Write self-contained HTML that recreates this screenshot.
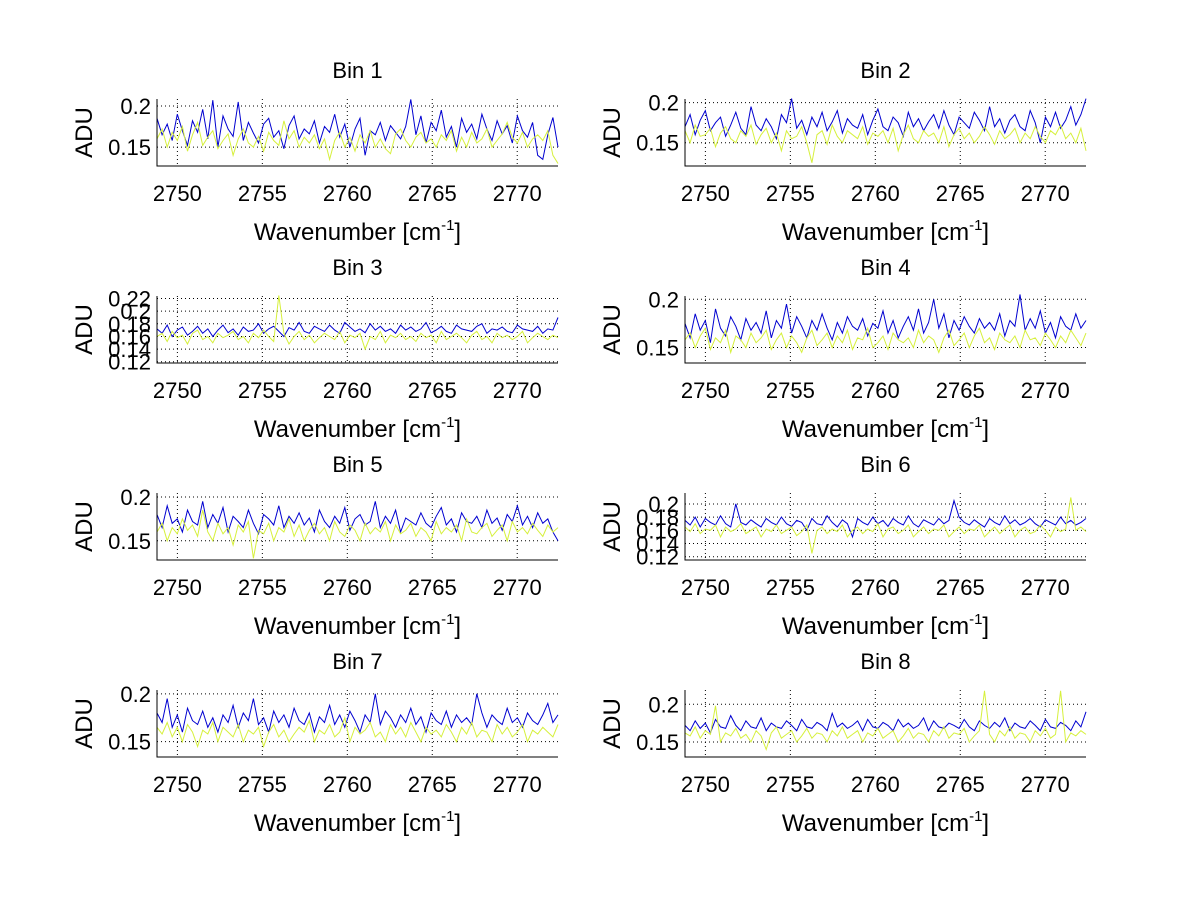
<!DOCTYPE html>
<html><head><meta charset="utf-8">
<style>
body{margin:0;background:#fff;}
svg{display:block;font-family:"Liberation Sans",sans-serif;}
</style></head>
<body>
<svg id="fig" width="1200" height="901" viewBox="0 0 1200 901" xmlns="http://www.w3.org/2000/svg">
<rect width="1200" height="901" fill="#fff"/>
</svg>
<script>
const xTicks=[2750,2755,2760,2765,2770];
const xMin=2748.8, xMax=2772.4;
const binTitles=["Bin 1","Bin 2","Bin 3","Bin 4","Bin 5","Bin 6","Bin 7","Bin 8"];
const yLims=[[0.127,0.2085],[0.121,0.2045],[0.118,0.224],[0.134,0.2034],[0.128,0.2046],[0.115,0.2166],[0.134,0.204],[0.13,0.219]];
const yTicks=[[0.15,0.2],[0.15,0.2],[0.12,0.14,0.16,0.18,0.2,0.22],[0.15,0.2],[0.15,0.2],[0.12,0.14,0.16,0.18,0.2],[0.15,0.2],[0.15,0.2]];
const blue1=[.185,.165,.178,.158,.190,.170,.152,.182,.168,.196,.160,.207,.150,.188,.172,.163,.205,.158,.180,.167,.155,.178,.185,.162,.170,.148,.176,.188,.160,.172,.166,.182,.155,.175,.168,.190,.162,.178,.150,.172,.185,.140,.170,.165,.180,.158,.176,.168,.160,.175,.208,.165,.188,.155,.180,.170,.195,.162,.175,.150,.185,.168,.178,.160,.190,.172,.158,.182,.166,.176,.155,.188,.170,.162,.180,.140,.135,.165,.186,.150];
const yel1=[.160,.172,.150,.168,.158,.175,.145,.165,.180,.152,.162,.170,.148,.158,.166,.140,.160,.172,.155,.150,.163,.145,.168,.158,.152,.182,.160,.170,.150,.162,.155,.165,.148,.160,.135,.158,.168,.150,.162,.145,.165,.155,.170,.150,.160,.148,.142,.166,.172,.158,.150,.162,.168,.155,.160,.150,.165,.158,.170,.145,.162,.150,.168,.155,.160,.172,.150,.158,.166,.180,.162,.155,.168,.150,.160,.165,.158,.170,.140,.130];
const blue2=[.170,.185,.160,.178,.190,.165,.175,.182,.158,.172,.188,.168,.160,.195,.172,.165,.180,.170,.155,.185,.175,.205,.168,.178,.160,.182,.170,.188,.165,.176,.190,.162,.180,.172,.168,.185,.160,.178,.192,.170,.165,.182,.175,.158,.188,.170,.180,.165,.176,.185,.168,.190,.172,.160,.182,.175,.168,.188,.178,.165,.195,.170,.180,.162,.178,.185,.170,.165,.190,.175,.150,.182,.170,.188,.168,.178,.195,.172,.185,.205];
const yel2=[.165,.150,.172,.158,.160,.168,.145,.162,.170,.155,.150,.165,.158,.172,.148,.160,.168,.150,.162,.140,.165,.155,.158,.170,.150,.125,.160,.165,.148,.172,.158,.150,.165,.160,.155,.170,.148,.162,.158,.165,.150,.168,.140,.160,.172,.155,.150,.165,.158,.162,.150,.170,.145,.160,.168,.155,.162,.150,.158,.170,.160,.148,.165,.155,.160,.168,.150,.162,.155,.170,.158,.150,.165,.160,.172,.155,.162,.150,.168,.140];
const blue3=[.172,.165,.178,.160,.170,.175,.162,.168,.176,.165,.172,.160,.170,.178,.166,.172,.162,.175,.168,.170,.180,.165,.172,.176,.168,.160,.174,.170,.182,.168,.165,.176,.172,.168,.178,.170,.165,.182,.175,.168,.172,.166,.180,.170,.176,.168,.172,.165,.178,.170,.175,.168,.172,.182,.166,.170,.176,.168,.165,.178,.172,.170,.168,.176,.180,.165,.172,.170,.175,.168,.166,.178,.172,.170,.168,.176,.165,.172,.170,.190];
const yel3=[.160,.165,.152,.168,.158,.162,.148,.165,.170,.155,.160,.150,.165,.158,.162,.168,.155,.160,.150,.165,.158,.170,.160,.152,.225,.165,.148,.160,.168,.155,.162,.150,.158,.165,.160,.155,.168,.150,.162,.158,.165,.140,.160,.155,.168,.150,.162,.158,.165,.155,.160,.152,.165,.158,.162,.150,.168,.155,.160,.165,.158,.150,.162,.168,.155,.160,.150,.165,.158,.162,.155,.160,.168,.150,.158,.165,.160,.155,.162,.158];
const blue4=[.175,.160,.185,.168,.178,.155,.190,.170,.162,.182,.172,.158,.180,.168,.176,.165,.188,.160,.178,.170,.195,.165,.182,.172,.160,.178,.168,.185,.170,.158,.176,.165,.182,.172,.168,.180,.162,.175,.170,.188,.165,.178,.160,.172,.182,.168,.190,.165,.176,.200,.170,.185,.160,.178,.168,.182,.172,.165,.180,.170,.176,.168,.185,.162,.178,.172,.205,.168,.180,.170,.188,.165,.176,.160,.182,.172,.168,.185,.170,.178];
const yel4=[.158,.165,.150,.162,.170,.148,.160,.155,.168,.145,.162,.158,.150,.165,.155,.160,.168,.148,.158,.165,.150,.162,.155,.145,.160,.168,.152,.158,.165,.150,.162,.155,.168,.148,.160,.158,.170,.150,.155,.162,.148,.165,.158,.155,.160,.150,.168,.155,.162,.158,.145,.160,.168,.152,.158,.165,.150,.162,.170,.155,.160,.148,.165,.158,.155,.162,.150,.168,.158,.160,.152,.165,.158,.150,.162,.155,.168,.160,.152,.165];
const blue5=[.180,.165,.190,.170,.175,.160,.185,.172,.168,.195,.165,.180,.170,.188,.160,.178,.172,.165,.185,.170,.158,.180,.175,.168,.190,.165,.178,.170,.182,.168,.176,.160,.185,.172,.165,.178,.170,.188,.162,.175,.180,.168,.172,.195,.165,.178,.170,.185,.160,.176,.172,.168,.182,.170,.165,.178,.188,.168,.175,.160,.182,.172,.170,.178,.165,.185,.170,.176,.162,.180,.172,.190,.168,.178,.165,.182,.170,.175,.160,.150];
const yel5=[.160,.170,.150,.165,.158,.175,.162,.168,.155,.185,.160,.150,.170,.158,.165,.145,.168,.160,.172,.130,.162,.158,.170,.150,.165,.160,.175,.155,.168,.150,.162,.170,.158,.165,.150,.172,.160,.155,.168,.162,.150,.170,.158,.165,.160,.172,.150,.168,.158,.162,.170,.155,.165,.160,.150,.172,.158,.165,.160,.168,.150,.175,.160,.158,.165,.170,.155,.162,.168,.150,.172,.160,.165,.158,.170,.162,.155,.168,.160,.165];
const blue6=[.175,.168,.180,.165,.178,.172,.168,.182,.170,.165,.200,.172,.168,.176,.170,.165,.178,.172,.168,.180,.170,.166,.175,.172,.160,.178,.170,.168,.182,.172,.165,.176,.170,.150,.178,.172,.168,.180,.170,.175,.166,.178,.172,.168,.182,.170,.165,.176,.172,.168,.178,.170,.175,.205,.180,.172,.168,.176,.170,.165,.178,.172,.168,.182,.170,.176,.168,.172,.178,.170,.165,.176,.172,.168,.180,.170,.175,.168,.172,.178];
const yel6=[.165,.158,.170,.155,.162,.160,.168,.150,.165,.158,.162,.170,.155,.160,.165,.150,.162,.158,.168,.155,.160,.165,.152,.158,.168,.125,.160,.165,.155,.162,.158,.168,.150,.160,.165,.155,.162,.158,.170,.150,.162,.165,.155,.160,.168,.150,.158,.165,.155,.162,.160,.168,.150,.158,.165,.155,.162,.160,.168,.150,.158,.165,.155,.162,.168,.150,.160,.165,.155,.158,.168,.160,.150,.165,.158,.162,.210,.160,.165,.158];
const blue7=[.180,.170,.195,.165,.178,.160,.185,.172,.168,.182,.165,.175,.160,.178,.170,.188,.165,.180,.172,.195,.168,.175,.160,.182,.170,.178,.165,.185,.172,.168,.180,.160,.176,.170,.188,.168,.178,.165,.182,.172,.160,.178,.170,.200,.168,.182,.175,.165,.178,.170,.185,.168,.176,.160,.180,.172,.168,.182,.165,.178,.170,.175,.168,.200,.180,.165,.178,.172,.168,.185,.170,.175,.165,.180,.172,.168,.178,.190,.170,.178];
const yel7=[.165,.158,.170,.155,.165,.150,.168,.160,.145,.162,.158,.170,.150,.165,.160,.155,.168,.150,.162,.158,.165,.145,.160,.168,.155,.162,.150,.158,.165,.160,.172,.150,.162,.158,.168,.155,.160,.175,.150,.165,.158,.162,.170,.155,.160,.150,.168,.158,.165,.155,.170,.160,.150,.165,.158,.162,.155,.168,.160,.150,.165,.158,.170,.155,.162,.160,.150,.168,.158,.165,.155,.160,.168,.150,.162,.158,.165,.160,.155,.168];
const blue8=[.172,.165,.178,.168,.175,.162,.180,.170,.168,.185,.172,.165,.178,.170,.168,.182,.165,.175,.170,.168,.178,.172,.165,.180,.170,.168,.176,.172,.165,.188,.170,.175,.168,.172,.178,.165,.180,.170,.168,.176,.172,.165,.180,.170,.175,.168,.172,.182,.165,.178,.170,.168,.175,.172,.168,.180,.170,.165,.178,.172,.168,.176,.170,.182,.165,.175,.170,.168,.178,.172,.165,.180,.170,.168,.176,.172,.165,.178,.170,.190];
const yel8=[.162,.158,.170,.155,.165,.160,.198,.150,.162,.158,.168,.155,.160,.150,.165,.158,.140,.162,.170,.155,.160,.165,.150,.158,.168,.155,.162,.160,.150,.165,.158,.170,.155,.160,.165,.150,.162,.158,.168,.155,.160,.165,.150,.158,.168,.155,.162,.160,.150,.165,.158,.170,.155,.162,.160,.168,.150,.158,.165,.218,.160,.150,.165,.158,.170,.155,.162,.160,.150,.165,.158,.168,.155,.160,.218,.150,.162,.158,.165,.160];
const blueSeries=[blue1,blue2,blue3,blue4,blue5,blue6,blue7,blue8];
const yellowSeries=[yel1,yel2,yel3,yel4,yel5,yel6,yel7,yel8];

const NS="http://www.w3.org/2000/svg";
const fig=document.getElementById('fig');
function mk(tag,attrs,parent){const e=document.createElementNS(NS,tag);for(const k in attrs)e.setAttribute(k,attrs[k]);parent.appendChild(e);return e;}
const AX_L=[157,685], AX_T=[99,296,493,690], AX_W=401, AX_H=67;

for(let i=0;i<8;i++){
  const col=i%2,row=Math.floor(i/2);
  const x0=AX_L[col],y0=AX_T[row];
  const [ymin,ymax]=yLims[i];
  const sx=v=>x0+(v-xMin)/(xMax-xMin)*AX_W;
  const sy=v=>y0+AX_H-(v-ymin)/(ymax-ymin)*AX_H;
  const g=mk('g',{},fig);
  
  
  xTicks.forEach(t=>{const l=mk('line',{x1:sx(t),x2:sx(t),y1:y0,y2:y0+AX_H,stroke:'#000','stroke-width':1,'stroke-dasharray':'1,3'},g);
    
    });
  yTicks[i].forEach(t=>{const l=mk('line',{x1:x0,x2:x0+AX_W,y1:sy(t),y2:sy(t),stroke:'#000','stroke-width':1,'stroke-dasharray':'1,3'},g);
    
    });
  [[blueSeries[i],'#0000d0','blue-series'],[yellowSeries[i],'#d6f03c','yellow-series']].forEach(([arr,c,nm])=>{
    const n=arr.length;
    const pts=arr.map((v,k)=>sx(xMin+(k/(n-1))*(xMax-xMin)).toFixed(1)+','+sy(v).toFixed(1)).join(' ');
    const p=mk('polyline',{points:pts,fill:'none',stroke:c,'stroke-width':1},g);
    
    
  });
  const ax=mk('path',{d:`M${x0} ${y0}V${y0+AX_H}H${x0+AX_W}`,fill:'none',stroke:'#000','stroke-width':1},g);
  
  
  xTicks.forEach(t=>{const tx=mk('text',{x:sx(t),y:y0+AX_H+35,'text-anchor':'middle','font-size':22},g);tx.textContent=t;
    
    });
  yTicks[i].forEach(t=>{const tx=mk('text',{x:x0-6,y:sy(t)+8,'text-anchor':'end','font-size':22},g);tx.textContent=String(t);
    
    });
  const tt=mk('text',{x:x0+AX_W/2,y:y0-21,'text-anchor':'middle','font-size':22},g);tt.textContent=binTitles[i];
  
  
  const xl=mk('text',{x:x0+AX_W/2,y:y0+AX_H+74,'text-anchor':'middle','font-size':24},g);
  xl.innerHTML='Wavenumber [cm<tspan font-size="15" dy="-10">-1</tspan><tspan dy="10">]</tspan>';
  
  
  const yl=mk('text',{x:0,y:0,'text-anchor':'middle','font-size':24,transform:`translate(${x0-65},${y0+AX_H/2}) rotate(-90)`},g);yl.textContent='ADU';
  
  
}
</script>
</body></html>
